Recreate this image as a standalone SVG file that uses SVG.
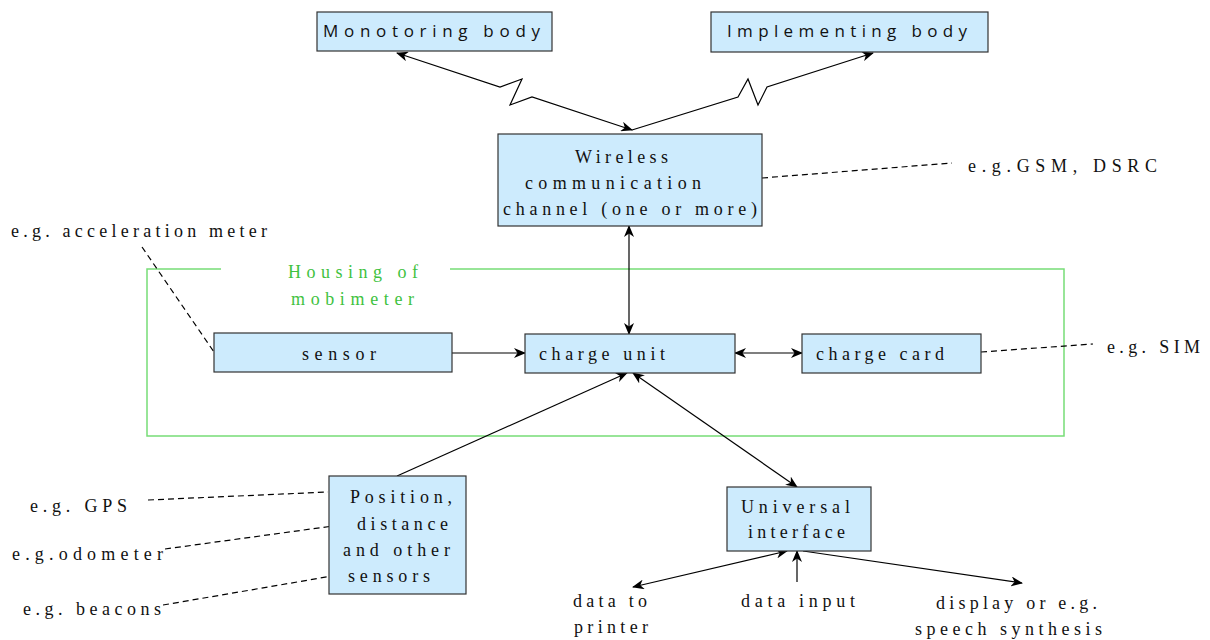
<svg xmlns="http://www.w3.org/2000/svg" width="1210" height="640" viewBox="0 0 1210 640">
<style>
.box{fill:#cdebfd;stroke:#333;stroke-width:1.2}
.t{font-family:"Times New Roman",Times,"Liberation Serif","Noto Serif","DejaVu Serif",serif;font-size:18px;fill:#111}
.s{font-family:"Open Sans","Noto Sans",Lato,sans-serif;font-size:17px;fill:#111}
.g{font-family:"Times New Roman",Times,"Liberation Serif","Noto Serif","DejaVu Serif",serif;font-size:18px;fill:#3fc23f}
.c{fill:none;stroke:#000;stroke-width:1.2}
.d{fill:none;stroke:#000;stroke-width:1.2;stroke-dasharray:6,4}
</style>
<defs>
<marker id="ah" viewBox="0 0 12 10" refX="11" refY="5" markerWidth="12" markerHeight="10" markerUnits="userSpaceOnUse" orient="auto-start-reverse">
<path d="M0,0 L12,5 L0,10 L3.5,5 z" fill="#000"/>
</marker>
</defs>
<rect width="1210" height="640" fill="#fff"/>

<g id="housing">
<path d="M221,269 L147,269 L147,436 L1064,436 L1064,269 L450,269" fill="none" stroke="#77dd77" stroke-width="1.5"/>
<text class="g" x="288" y="278" textLength="130" lengthAdjust="spacing">Housing of</text>
<text class="g" x="291" y="305" textLength="123" lengthAdjust="spacing">mobimeter</text>
</g>

<g id="connectors">
<path class="c" d="M632,130 L532,97 L510,105 L522,79 L500,87 L397,53" marker-start="url(#ah)" marker-end="url(#ah)"/>
<path class="c" d="M632,130 L738,97 L748,79 L758,105 L767,87 L873,53" marker-end="url(#ah)"/>
<path class="c" d="M629,334 L629,226" marker-start="url(#ah)" marker-end="url(#ah)"/>
<path class="c" d="M452,353 L525,353" marker-end="url(#ah)"/>
<path class="c" d="M735,353 L802,353" marker-start="url(#ah)" marker-end="url(#ah)"/>
<path class="c" d="M397,476 L627,373" marker-end="url(#ah)"/>
<path class="c" d="M633,373 L797,487" marker-start="url(#ah)" marker-end="url(#ah)"/>
<path class="c" d="M787,551 L633,587" marker-start="url(#ah)" marker-end="url(#ah)"/>
<path class="c" d="M797,582 L797,551" marker-end="url(#ah)"/>
<path class="c" d="M803,551 L1022,583" marker-end="url(#ah)"/>
<path class="d" d="M762,178 L952,163"/>
<path class="d" d="M142,247 L214,352"/>
<path class="d" d="M981,352 L1093,344"/>
<path class="d" d="M148,500 L328,492"/>
<path class="d" d="M165,549 L333,526"/>
<path class="d" d="M163,605 L338,575"/>
</g>

<g id="monitoring">
<rect class="box" x="317" y="12" width="235" height="39"/>
<text class="s" x="323" y="37" textLength="217" lengthAdjust="spacing">Monotoring body</text>
</g>
<g id="implementing">
<rect class="box" x="711" y="12" width="277" height="40"/>
<text class="s" x="727" y="37" textLength="240" lengthAdjust="spacing">Implementing body</text>
</g>
<g id="wireless">
<rect class="box" x="498" y="134" width="264" height="92"/>
<text class="t" x="575" y="163" textLength="93" lengthAdjust="spacing">Wireless</text>
<text class="t" x="525" y="189" textLength="176" lengthAdjust="spacing">communication</text>
<text class="t" x="503" y="215" textLength="254" lengthAdjust="spacing">channel (one or more)</text>
</g>
<g id="sensor">
<rect class="box" x="214" y="333" width="238" height="39"/>
<text class="t" x="302" y="360" textLength="74" lengthAdjust="spacing">sensor</text>
</g>
<g id="chargeunit">
<rect class="box" x="525" y="334" width="210" height="39"/>
<text class="t" x="539" y="360" textLength="126" lengthAdjust="spacing">charge unit</text>
</g>
<g id="chargecard">
<rect class="box" x="802" y="334" width="179" height="39"/>
<text class="t" x="816" y="360" textLength="128" lengthAdjust="spacing">charge card</text>
</g>
<g id="position">
<rect class="box" x="329" y="476" width="137" height="118"/>
<text class="t" x="350" y="503" textLength="102" lengthAdjust="spacing">Position,</text>
<text class="t" x="357" y="530" textLength="91" lengthAdjust="spacing">distance</text>
<text class="t" x="343" y="556" textLength="107" lengthAdjust="spacing">and other</text>
<text class="t" x="348" y="582" textLength="82" lengthAdjust="spacing">sensors</text>
</g>
<g id="universal">
<rect class="box" x="727" y="487" width="144" height="64"/>
<text class="t" x="741" y="513" textLength="109" lengthAdjust="spacing">Universal</text>
<text class="t" x="748" y="538" textLength="97" lengthAdjust="spacing">interface</text>
</g>

<g id="labels">
<text class="t" x="968" y="172" textLength="189" lengthAdjust="spacing">e.g.GSM, DSRC</text>
<text class="t" x="11" y="237" textLength="256" lengthAdjust="spacing">e.g. acceleration meter</text>
<text class="t" x="1107" y="353" textLength="93" lengthAdjust="spacing">e.g. SIM</text>
<text class="t" x="30" y="512" textLength="97" lengthAdjust="spacing">e.g. GPS</text>
<text class="t" x="12" y="560" textLength="151" lengthAdjust="spacing">e.g.odometer</text>
<text class="t" x="23" y="615" textLength="138" lengthAdjust="spacing">e.g. beacons</text>
<text class="t" x="573" y="607" textLength="74" lengthAdjust="spacing">data to</text>
<text class="t" x="574" y="633" textLength="74" lengthAdjust="spacing">printer</text>
<text class="t" x="741" y="607" textLength="114" lengthAdjust="spacing">data input</text>
<text class="t" x="936" y="609" textLength="161" lengthAdjust="spacing">display or e.g.</text>
<text class="t" x="915" y="635" textLength="187" lengthAdjust="spacing">speech synthesis</text>
</g>
</svg>
